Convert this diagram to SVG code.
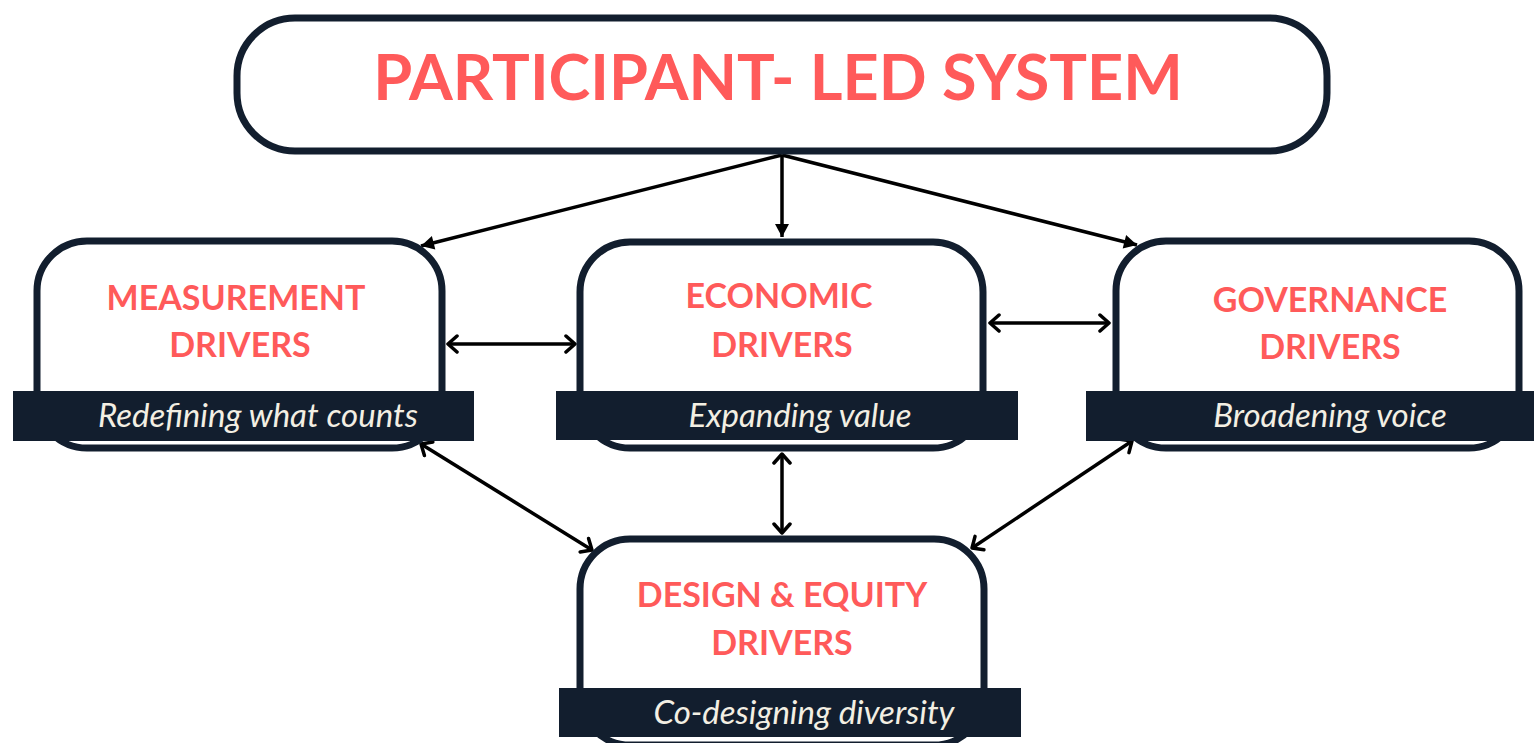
<svg xmlns="http://www.w3.org/2000/svg" width="1534" height="743" viewBox="0 0 1534 743">
<defs>
<style>
.box{fill:#fff;stroke:#121e2e;stroke-width:7}
.bar{fill:#121e2e}
.ttl{font-family:Lato,"Open Sans",sans-serif;font-weight:bold;fill:#ff5a5a;text-anchor:middle}
.big{font-size:63px}
.nt{font-size:34px}
.sub{font-family:Lato,"Open Sans",sans-serif;font-style:italic;font-size:33px;fill:#f3efe3;text-anchor:middle}
.c{stroke:#000;stroke-width:3.5;fill:none}
</style>
<marker id="tri" markerUnits="userSpaceOnUse" markerWidth="16" markerHeight="16" viewBox="0 0 16 16" refX="15" refY="8" orient="auto">
<path d="M2,1 L15,8 L2,15 Z" fill="#000"/>
</marker>
<marker id="chev" markerUnits="userSpaceOnUse" markerWidth="16" markerHeight="20" viewBox="0 0 16 20" refX="13" refY="10" orient="auto-start-reverse">
<path d="M4,2 L13,10 L4,18" fill="none" stroke="#000" stroke-width="3.5" stroke-linecap="round" stroke-linejoin="round"/>
</marker>
</defs>
<g id="connectors">
<line class="c" x1="782" y1="155" x2="782" y2="237" marker-end="url(#tri)"/>
<line class="c" x1="782" y1="155" x2="421" y2="246" marker-end="url(#tri)"/>
<line class="c" x1="782" y1="155" x2="1137" y2="245" marker-end="url(#tri)"/>
<line class="c" x1="448" y1="344" x2="575" y2="344" marker-start="url(#chev)" marker-end="url(#chev)"/>
<line class="c" x1="990" y1="323" x2="1109" y2="323" marker-start="url(#chev)" marker-end="url(#chev)"/>
<line class="c" x1="782" y1="454" x2="782" y2="533" marker-start="url(#chev)" marker-end="url(#chev)"/>
<line class="c" x1="421" y1="444" x2="592" y2="550" marker-start="url(#chev)" marker-end="url(#chev)"/>
<line class="c" x1="1132" y1="441" x2="972" y2="548" marker-start="url(#chev)" marker-end="url(#chev)"/>
</g>
<g id="top">
<rect class="box" x="237" y="18" width="1090" height="133" rx="58" ry="58"/>
<text class="ttl big" x="778" y="100">PARTICIPANT- LED SYSTEM</text>
</g>
<g id="measurement">
<rect class="box" x="37" y="241" width="405" height="207" rx="50" ry="50"/>
<text class="ttl nt" x="236" y="310">MEASUREMENT</text>
<text class="ttl nt" x="240" y="357">DRIVERS</text>
<rect class="bar" x="13" y="391" width="461" height="50"/>
<text class="sub" x="258" y="427">Redefining what counts</text>
</g>
<g id="economic">
<rect class="box" x="580" y="242" width="403" height="206" rx="50" ry="50"/>
<text class="ttl nt" x="779" y="308">ECONOMIC</text>
<text class="ttl nt" x="782" y="357">DRIVERS</text>
<rect class="bar" x="556" y="391" width="462" height="49"/>
<text class="sub" x="800" y="427">Expanding value</text>
</g>
<g id="governance">
<rect class="box" x="1116" y="241" width="403" height="207" rx="50" ry="50"/>
<text class="ttl nt" x="1330" y="312">GOVERNANCE</text>
<text class="ttl nt" x="1330" y="359">DRIVERS</text>
<rect class="bar" x="1086" y="391" width="448" height="50"/>
<text class="sub" x="1330" y="427">Broadening voice</text>
</g>
<g id="design">
<rect class="box" x="580" y="539" width="404" height="206" rx="50" ry="50"/>
<text class="ttl nt" x="782" y="607">DESIGN &amp; EQUITY</text>
<text class="ttl nt" x="782" y="655">DRIVERS</text>
<rect class="bar" x="559" y="688" width="462" height="49"/>
<text class="sub" x="804" y="724">Co-designing diversity</text>
</g>
</svg>
